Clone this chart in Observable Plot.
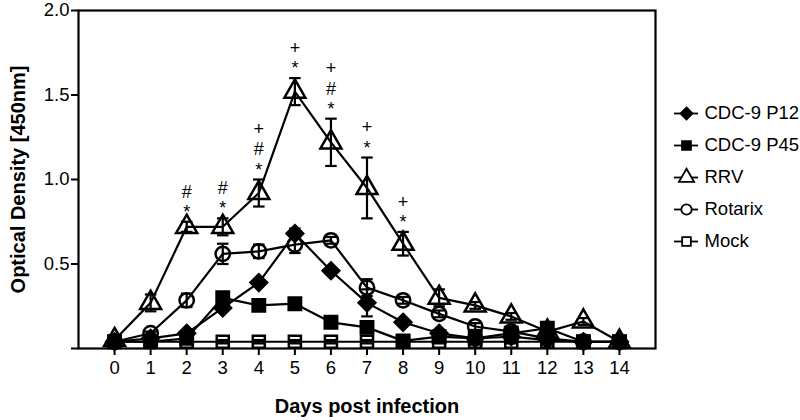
<!DOCTYPE html>
<html><head><meta charset="utf-8">
<script src="https://cdn.jsdelivr.net/npm/d3@7"></script>
<script src="https://cdn.jsdelivr.net/npm/@observablehq/plot@0.6"></script>
<style>
body{margin:0;background:#fff;}
#wrap{position:relative;width:800px;height:420px;font-family:"Liberation Sans",Arial,sans-serif;}
#legend{position:absolute;left:665px;top:95px;}
</style></head><body><div id="wrap"><div id="chart"></div><div id="legend"></div></div>
<script>
const days = [0,1,2,3,4,5,6,7,8,9,10,11,12,13,14];
const seriesNames = ["CDC-9 P12","CDC-9 P45","RRV","Rotarix","Mock"];
const p12     = [0.04,0.06,0.09,0.24,0.39,0.68,0.46,0.27,0.155,0.09,0.06,0.07,0.05,0.04,0.04];
const p12Err  = [0.01,0.01,0.01,0.01,0.01,0.03,0.01,0.08,0.01,0.01,0.01,0.01,0.01,0.01,0.01];
const p45     = [0.04,0.04,0.06,0.30,0.255,0.265,0.155,0.125,0.045,0.07,0.06,0.09,0.12,0.04,0.04];
const p45Err  = [0.01,0.01,0.01,0.01,0.01,0.01,0.01,0.01,0.01,0.01,0.01,0.01,0.01,0.01,0.01];
const rrv     = [0.05,0.27,0.72,0.72,0.92,1.52,1.22,0.95,0.62,0.30,0.255,0.19,0.10,0.16,0.04];
const rrvErr  = [0.01,0.05,0.03,0.05,0.08,0.08,0.14,0.18,0.07,0.05,0.02,0.02,0.02,0.02,0.01];
const rotarix = [0.04,0.09,0.285,0.56,0.575,0.615,0.64,0.36,0.285,0.205,0.13,0.10,0.06,0.04,0.04];
const rotErr  = [0.01,0.01,0.04,0.06,0.04,0.05,0.02,0.05,0.02,0.02,0.02,0.01,0.01,0.01,0.01];
const mock    = [0.04,0.04,0.04,0.04,0.04,0.04,0.04,0.04,0.04,0.04,0.04,0.04,0.04,0.04,0.04];
const mockErr = [0.01,0.01,0.01,0.01,0.01,0.01,0.01,0.01,0.01,0.01,0.01,0.01,0.01,0.01,0.01];
const yTicks = [0,0.5,1.0,1.5,2.0];
const sigDays = [2,3,4,5,6,7,8];
const sigMarks = ["#\n*","#\n*","+\n#\n*","+\n*","+\n#\n*","+\n*","+\n*"];

const values = [p12,p45,rrv,rotarix,mock];
const errors = [p12Err,p45Err,rrvErr,rotErr,mockErr];
const styles = [
  {symbol:"diamond2", fill:"black", r:7.5},
  {symbol:"square", fill:"black", r:7},
  {symbol:"triangle", fill:"none", r:7.8},
  {symbol:"circle", fill:"none", r:7.2},
  {symbol:"square", fill:"none", r:6.8}
];
const rows = [];
seriesNames.forEach((s,i)=>days.forEach((d,j)=>rows.push({series:s, day:d, od:values[i][j], err:errors[i][j]})));
const sig = sigDays.map((d,k)=>({day:d, top: rrv[days.indexOf(d)] + rrvErr[days.indexOf(d)], txt: sigMarks[k]}));

const cap = {draw(ctx, size){ const w = Math.sqrt(size)/2; ctx.moveTo(-w,0); ctx.lineTo(w,0); }};
const font = "Liberation Sans, Arial, sans-serif";

const seriesDots = seriesNames.map((s,i)=>Plot.dot(rows.filter(r=>r.series===s),{
  x:"day", y:"od", symbol:styles[i].symbol, r:styles[i].r,
  fill:styles[i].fill, stroke:"black", strokeWidth:2.5
}));

const chart = Plot.plot({
  width:800, height:420, marginLeft:78, marginRight:145, marginTop:10, marginBottom:72,
  style:{fontFamily:font, background:"white", color:"black", overflow:"visible"},
  x:{domain:[-1,15]}, y:{domain:[0,2]},
  marks:[
    Plot.axisY({ticks:yTicks, tickSize:7, tickPadding:2, tickFormat:d=>d===0?"":d.toFixed(1), fontSize:18.5, strokeWidth:2, label:null}),
    Plot.axisX({ticks:days, tickSize:7, tickPadding:5, tickFormat:d=>String(d), fontSize:18.5, strokeWidth:2, label:null}),
    Plot.frame({strokeWidth:2.2}),
    Plot.line(rows,{x:"day", y:"od", z:"series", stroke:"black", strokeWidth:2.2}),
    Plot.ruleX(rows,{x:"day", y1:r=>r.od-r.err, y2:r=>r.od+r.err, stroke:"black", strokeWidth:2.2}),
    Plot.dot(rows,{x:"day", y:r=>r.od+r.err, symbol:cap, r:6.5, stroke:"black", strokeWidth:2.2}),
    Plot.dot(rows,{x:"day", y:r=>r.od-r.err, symbol:cap, r:6.5, stroke:"black", strokeWidth:2.2}),
    ...seriesDots,
    Plot.text(sig,{x:"day", y:"top", text:"txt", lineAnchor:"bottom", lineHeight:1.12, dy:-4, fontSize:18, fill:"#000"}),
    Plot.text(["Days post infection"],{text:d=>d, frameAnchor:"bottom", lineAnchor:"middle", dy:58, fontSize:20, fontWeight:"bold", fill:"#000"}),
    Plot.text(["Optical Density [450nm]"],{text:d=>d, frameAnchor:"left", textAnchor:"middle", lineAnchor:"middle", dx:-60, rotate:-90, fontSize:20, fontWeight:"bold", fill:"#000"})
  ]
});
document.getElementById("chart").appendChild(chart);

const legendDots = seriesNames.map((s,i)=>Plot.dot([s],{
  x:0.5, y:d=>d, symbol:styles[i].symbol, r:styles[i].r*0.72,
  fill:styles[i].fill==="none"?"white":"black", stroke:"black", strokeWidth:1.8
}));
const legend = Plot.plot({
  width:135, height:165, margin:0,
  style:{fontFamily:font, background:"transparent", color:"black", overflow:"visible"},
  x:{domain:[0,1], range:[9,33], axis:null},
  y:{domain:seriesNames, range:[16.5,146.5], type:"point", padding:0, axis:null},
  marks:[
    Plot.ruleY(seriesNames,{y:d=>d, x1:0, x2:1, stroke:"black", strokeWidth:1.8}),
    ...legendDots,
    Plot.text(seriesNames,{x:1, y:d=>d, text:d=>d, dx:6, textAnchor:"start", fontSize:18.5, fill:"#000"})
  ]
});
document.getElementById("legend").appendChild(legend);
</script></body></html>
